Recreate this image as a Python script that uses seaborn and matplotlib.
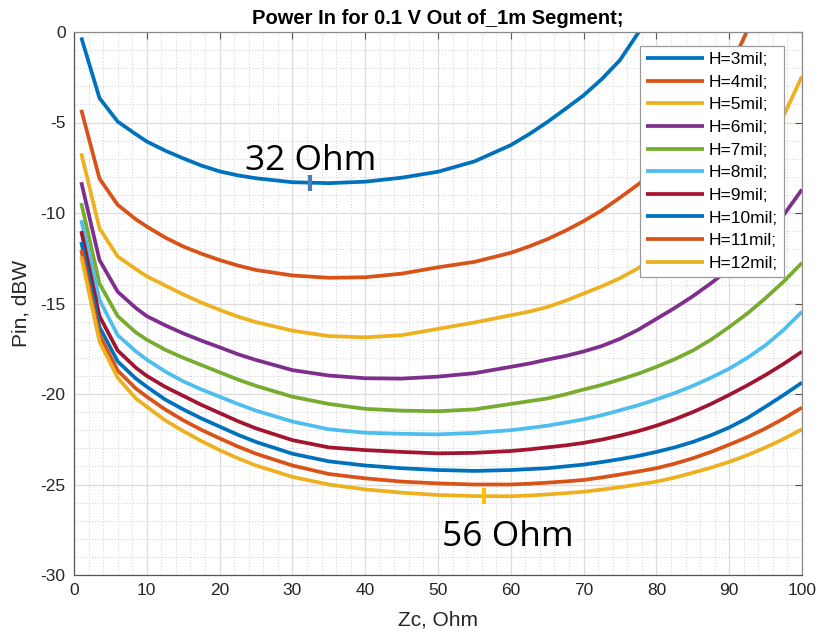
import numpy as np
import pandas as pd
import matplotlib
matplotlib.use("Agg")
import matplotlib.pyplot as plt
import seaborn as sns
from matplotlib.ticker import MultipleLocator

nan = np.nan

# Zc sample points (Ohm)
zc = [1, 3.5, 6, 8.5, 10, 12.5, 15, 17.5, 20, 22.5, 25,
      30, 35, 40, 45, 50, 55, 60,
      62.5, 65, 67.5, 70, 72.5, 75, 77.5, 80,
      82.5, 85, 87.5, 90, 92.5, 95, 97.5, 100]

# Pin (dBW) per dielectric height
h3 = [-0.3, -3.65, -4.95, -5.65, -6.05, -6.55, -6.98, -7.38, -7.7, -7.92, -8.08,
      -8.3, -8.35, -8.27, -8.05, -7.72, -7.15, -6.25,
      -5.65, -4.98, -4.25, -3.5, -2.6, -1.55, -0.05, 1.8,
      nan, nan, nan, nan, nan, nan, nan, nan]
h4 = [-4.3, -8.1, -9.55, -10.35, -10.75, -11.35, -11.85, -12.25, -12.6, -12.9, -13.15,
      -13.45, -13.58, -13.55, -13.35, -13.0, -12.7, -12.2,
      -11.85, -11.45, -10.98, -10.45, -9.85, -9.15, -8.42, -7.6,
      -6.6, -5.4, -3.9, -2.1, 0.1, 2.5, nan, nan]
h5 = [-6.7, -10.85, -12.4, -13.1, -13.5, -14.0, -14.5, -14.95, -15.35, -15.72, -16.03,
      -16.5, -16.8, -16.87, -16.75, -16.4, -16.05, -15.65,
      -15.45, -15.2, -14.85, -14.45, -14.05, -13.6, -13.05, -12.4,
      -11.65, -10.8, -9.9, -8.9, -7.7, -6.3, -4.6, -2.45]
h6 = [-8.3, -12.6, -14.35, -15.25, -15.7, -16.2, -16.65, -17.05, -17.42, -17.8, -18.12,
      -18.68, -18.98, -19.13, -19.15, -19.04, -18.85, -18.5,
      -18.32, -18.1, -17.9, -17.65, -17.35, -16.95, -16.45, -15.85,
      -15.25, -14.6, -13.88, -13.1, -12.25, -11.3, -10.1, -8.7]
h7 = [-9.45, -13.9, -15.7, -16.6, -17.0, -17.55, -18.0, -18.4, -18.8, -19.2, -19.55,
      -20.15, -20.55, -20.82, -20.92, -20.95, -20.85, -20.55,
      -20.4, -20.25, -20.02, -19.75, -19.5, -19.2, -18.88, -18.5,
      -18.08, -17.6, -17.0, -16.3, -15.55, -14.7, -13.78, -12.75]
h8 = [-10.4, -14.8, -16.75, -17.65, -18.1, -18.75, -19.3, -19.75, -20.15, -20.55, -20.92,
      -21.52, -21.95, -22.14, -22.2, -22.23, -22.15, -22.0,
      -21.88, -21.75, -21.58, -21.4, -21.17, -20.9, -20.62, -20.3,
      -19.95, -19.55, -19.1, -18.6, -18.0, -17.3, -16.45, -15.45]
h9 = [-11.0, -15.7, -17.6, -18.55, -19.0, -19.6, -20.1, -20.6, -21.05, -21.5, -21.9,
      -22.55, -22.95, -23.1, -23.2, -23.28, -23.25, -23.15,
      -23.06, -22.95, -22.84, -22.7, -22.52, -22.3, -22.05, -21.75,
      -21.4, -21.0, -20.55, -20.05, -19.52, -18.95, -18.33, -17.66]
h10 = [-11.6, -16.3, -18.2, -19.15, -19.6, -20.3, -20.85, -21.35, -21.8, -22.25, -22.65,
       -23.3, -23.72, -23.95, -24.1, -24.2, -24.25, -24.2,
       -24.15, -24.1, -24.0, -23.9, -23.76, -23.6, -23.42, -23.2,
       -22.95, -22.65, -22.28, -21.85, -21.33, -20.7, -20.05, -19.37]
h11 = [-12.05, -16.75, -18.7, -19.7, -20.15, -20.85, -21.45, -21.98, -22.45, -22.9, -23.3,
       -23.95, -24.42, -24.66, -24.84, -24.94, -25.0, -25.0,
       -24.96, -24.9, -24.83, -24.75, -24.61, -24.45, -24.28, -24.1,
       -23.85, -23.55, -23.2, -22.8, -22.38, -21.9, -21.35, -20.75]
h12 = [-12.4, -17.1, -19.1, -20.25, -20.7, -21.45, -22.05, -22.6, -23.1, -23.55, -23.95,
       -24.58, -25.0, -25.27, -25.45, -25.58, -25.64, -25.65,
       -25.61, -25.55, -25.48, -25.4, -25.28, -25.15, -25.0, -24.84,
       -24.62, -24.35, -24.07, -23.75, -23.38, -22.95, -22.48, -21.95]

labels = ["H=3mil;", "H=4mil;", "H=5mil;", "H=6mil;", "H=7mil;",
          "H=8mil;", "H=9mil;", "H=10mil;", "H=11mil;", "H=12mil;"]
series = [h3, h4, h5, h6, h7, h8, h9, h10, h11, h12]
colors = ["#0072BD", "#D95319", "#EDB120", "#7E2F8E", "#77AC30",
          "#4DBEEE", "#A2142F", "#0072BD", "#D95319", "#EDB120"]

# optimum markers
opt_zc = [32.4, 56.3]
opt_pin = [-8.34, -25.64]
opt_text = ["32 Ohm", "56 Ohm"]
opt_colors = ["#4A7EBB", "#FFC000"]

rows = []
for lab, ys in zip(labels, series):
    for x, y in zip(zc, ys):
        if not np.isnan(y):
            rows.append((x, y, lab))
df = pd.DataFrame(rows, columns=["Zc", "Pin", "H"])

sns.set_theme(style="white")
plt.rcParams["font.family"] = ["Liberation Sans", "DejaVu Sans"]
plt.rcParams["axes.unicode_minus"] = False

fig = plt.figure(figsize=(8.19, 6.34), dpi=100)
ax = fig.add_axes([74 / 819, 1 - 575 / 634, (802 - 74) / 819, (575 - 32) / 634])

sns.lineplot(data=df, x="Zc", y="Pin", hue="H", hue_order=labels, palette=colors,
             linewidth=2.7, sort=False, estimator=None, ax=ax, legend=True)
for ln in ax.get_lines():
    ln.set_solid_joinstyle("round")
    ln.set_solid_capstyle("butt")

ax.set_xlim(0, 100)
ax.set_ylim(-30, 0)
ax.xaxis.set_major_locator(MultipleLocator(10))
ax.xaxis.set_minor_locator(MultipleLocator(2))
ax.yaxis.set_major_locator(MultipleLocator(5))
ax.yaxis.set_minor_locator(MultipleLocator(1))
ax.grid(True, which="major", color="#dcdcdc", linewidth=0.9, linestyle="-")
ax.grid(True, which="minor", color="#d0d0d0", linewidth=0.7, linestyle=(0, (1, 2)))
ax.set_axisbelow(True)

ax.tick_params(which="major", direction="in", length=5, width=0.8, top=True, right=True,
               labelcolor="#262626", labelsize=12.5, color="#555555")
ax.tick_params(axis="x", which="major", pad=6)
ax.tick_params(axis="y", which="major", pad=6)
ax.tick_params(which="minor", length=0)
for sp in ax.spines.values():
    sp.set_color("#8a8a8a")
    sp.set_linewidth(0.9)
ax.spines["left"].set_color("#555555")
ax.spines["bottom"].set_color("#555555")

ax.set_xlabel("Zc, Ohm", fontsize=15, color="#262626", labelpad=9)
ax.set_ylabel("Pin, dBW", fontsize=15, color="#262626", labelpad=7.5)
ax.set_title("Power In for 0.1 V Out of_1m Segment;", fontsize=14.5, fontweight="bold",
             color="#000000", pad=6)

for x, y, c in zip(opt_zc, opt_pin, opt_colors):
    ax.plot([x], [y], marker="|", markersize=11.5, markeredgewidth=3, color=c, zorder=5)
ax.text(23.5, -7.6, opt_text[0], fontsize=25.5, family=["Open Sans", "DejaVu Sans"],
        color="black", ha="left", va="baseline")
ax.text(50.5, -28.4, opt_text[1], fontsize=25.5, family=["Open Sans", "DejaVu Sans"],
        color="black", ha="left", va="baseline")

leg = ax.legend(loc="upper right", bbox_to_anchor=((784 - 74) / 728, (575 - 46) / 543),
                borderaxespad=0, fontsize=12.5, handlelength=3.3, handletextpad=0.3,
                labelspacing=0.43, borderpad=0.35, frameon=True, fancybox=False,
                edgecolor="#9a9a9a", framealpha=1)
leg.get_frame().set_linewidth(0.9)
for t in leg.get_texts():
    t.set_color("#000000")

fig.savefig("out.png", dpi=100)
